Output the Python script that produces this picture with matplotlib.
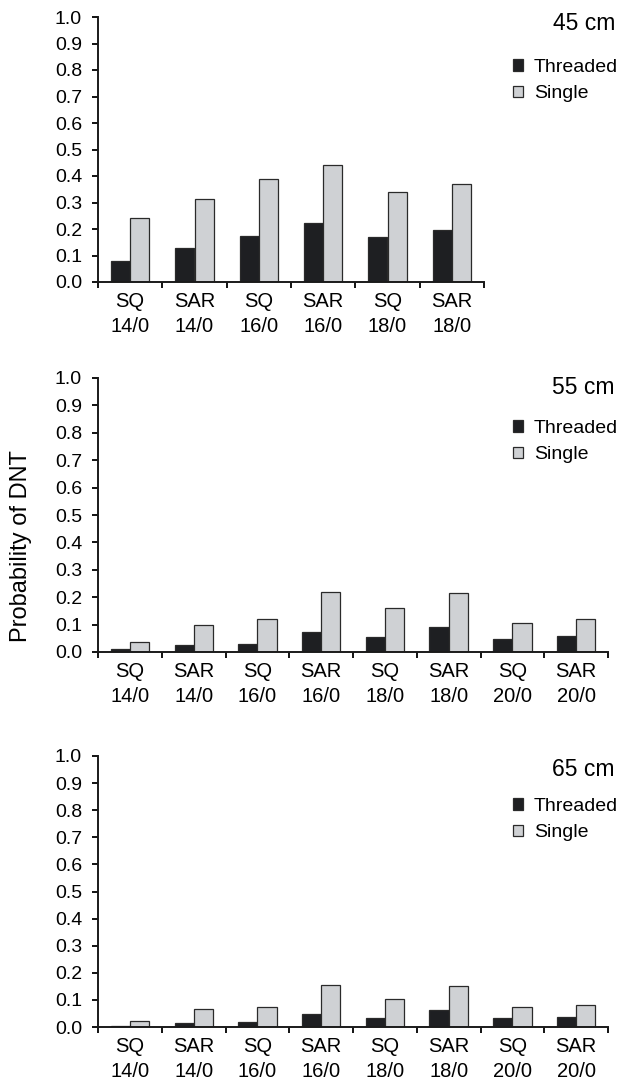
import matplotlib.pyplot as plt
from matplotlib.patches import Patch

plt.rcParams['font.family'] = ['Liberation Sans', 'DejaVu Sans']

# Data
labels_6 = ["SQ\n14/0", "SAR\n14/0", "SQ\n16/0", "SAR\n16/0", "SQ\n18/0", "SAR\n18/0"]
labels_8 = labels_6 + ["SQ\n20/0", "SAR\n20/0"]

threaded_45 = [0.08, 0.127, 0.175, 0.224, 0.171, 0.197]
single_45 = [0.24, 0.313, 0.387, 0.44, 0.338, 0.37]

threaded_55 = [0.01, 0.024, 0.030, 0.072, 0.055, 0.091, 0.049, 0.057]
single_55 = [0.037, 0.099, 0.12, 0.22, 0.161, 0.216, 0.107, 0.122]

threaded_65 = [0.005, 0.016, 0.017, 0.049, 0.035, 0.063, 0.032, 0.038]
single_65 = [0.021, 0.065, 0.074, 0.156, 0.105, 0.151, 0.072, 0.083]

titles = ["45 cm", "55 cm", "65 cm"]

DARK = "#1e1f22"
LIGHT = "#cfd1d4"
EDGE = "#2a2a2a"

W, H = 624, 1081
fig = plt.figure(figsize=(W / 100, H / 100), dpi=100)

# axes boxes in pixels: (left, top, right, bottom)
boxes = [(98, 17, 484, 282), (98, 378, 608, 652), (98, 756, 608, 1027)]
panels = [
    (labels_6, threaded_45, single_45),
    (labels_8, threaded_55, single_55),
    (labels_8, threaded_65, single_65),
]
title_off = [7, 9, 14]

for k, (box, (labs, thr, sgl)) in enumerate(zip(boxes, panels)):
    l, t, r, b = box
    ax = fig.add_axes([l / W, 1 - b / H, (r - l) / W, (b - t) / H])
    n = len(labs)
    centers = [i + 0.5 for i in range(n)]
    ax.bar([c - 0.15 for c in centers], thr, width=0.3, color=DARK,
           edgecolor=EDGE, linewidth=0.9)
    ax.bar([c + 0.15 for c in centers], sgl, width=0.3, color=LIGHT,
           edgecolor=EDGE, linewidth=0.9)
    ax.set_xlim(0, n)
    ax.set_ylim(0, 1.0)
    ax.set_yticks([i / 10 for i in range(11)])
    ax.set_yticklabels([f"{i / 10:.1f}" for i in range(11)], fontsize=14)
    ax.set_xticks(range(n + 1))
    ax.set_xticklabels([])
    ax.set_xticks(centers, minor=True)
    ax.set_xticklabels(labs, minor=True, fontsize=14.5, linespacing=1.43)
    ax.tick_params(axis='x', which='major', direction='out', length=4.5, width=1.3)
    ax.tick_params(axis='x', which='minor', length=0, pad=7)
    ax.tick_params(axis='y', direction='out', length=4.5, width=1.3, pad=7)
    for s in ["top", "right"]:
        ax.spines[s].set_visible(False)
    for s in ["left", "bottom"]:
        ax.spines[s].set_linewidth(1.4)
        ax.spines[s].set_color("#1a1a1a")

    # panel title
    fig.text(615 / W, 1 - (t + title_off[k]) / H, titles[k], fontsize=16.5,
             ha="right", va="center")
    # legend
    handles = [Patch(facecolor=DARK, edgecolor=EDGE, linewidth=0.9),
               Patch(facecolor=LIGHT, edgecolor=EDGE, linewidth=0.9)]
    fig.legend(handles, ["Threaded", "Single"], loc="upper left",
               bbox_to_anchor=(499 / W, 1 - (t + 28) / H), frameon=False,
               fontsize=14, handlelength=0.55, handleheight=0.55,
               handletextpad=0.55, labelspacing=0.5, borderpad=0.2)

fig.text(21 / W, 1 - 546 / H, "Probability of DNT", rotation=90,
         fontsize=17, ha="center", va="center")

fig.savefig("out.png", dpi=100)
